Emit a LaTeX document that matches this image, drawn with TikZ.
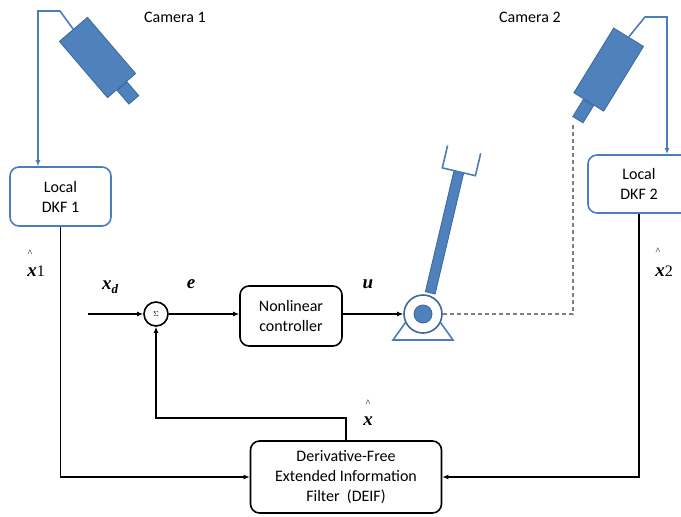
\documentclass[tikz,border=0pt]{standalone}
\usepackage{fontspec}
\setmainfont{Carlito}
\newfontfamily\lblfont{Liberation Serif}
\usepackage{xcolor}
\usepackage{tikz}
\usetikzlibrary{arrows.meta,positioning}
\definecolor{camblue}{HTML}{4F81BD}
\definecolor{camedge}{HTML}{3B679A}
\definecolor{wireblue}{HTML}{4A7EBB}
\definecolor{dashgray}{HTML}{7F7F7F}

\begin{document}
\begin{tikzpicture}[x=1pt,y=-1pt,>={Latex[length=6pt,width=5pt]},
  font=\fontsize{16}{20}\selectfont,
  blockbox/.style={draw=black,line width=1.6pt,rounded corners=9pt,align=center,inner sep=0pt},
  localbox/.style={blockbox,draw=wireblue},
  camera/.style={draw=camedge,fill=camblue,line width=0.8pt,inner sep=0pt},
  sig/.style={line width=1.6pt},
  wire/.style={draw=wireblue,line width=1.6pt},
  lbl/.style={font=\lblfont\fontsize{19}{19}\selectfont\bfseries\itshape},
  hatmark/.style={font=\lblfont\fontsize{10}{10}\selectfont}]
\useasboundingbox (0,0) rectangle (681,517);
\clip (0,0) rectangle (681,517);

% cameras
\node (cam1lbl) at (175,17) {Camera 1};
\node[camera,minimum width=74,minimum height=37,rotate=-49.4] (cam1) at (97.5,57.5) {};
\node[camera,minimum width=18,minimum height=13,rotate=-49.4,anchor=west] (lens1) at (cam1.east) {};
\node (cam2lbl) at (530,17) {Camera 2};
\node[camera,minimum width=76,minimum height=35,rotate=-121.6] (cam2) at (608.7,69.6) {};
\node[camera,minimum width=20,minimum height=12,rotate=-121.6,anchor=west] (lens2) at (cam2.east) {};

% local filters
\node[localbox,minimum width=101,minimum height=59] (dkf1) at (60.5,196.5) {Local\\DKF 1};
\node[localbox,minimum width=102,minimum height=58] (dkf2) at (639,184) {Local\\DKF 2};

\coordinate (w1a) at (60,11);
\coordinate (w1b) at (38,11);
\draw[wire,->] (cam1.west) -- (w1a) -- (w1b) -- (w1b |- dkf1.north);
\coordinate (w2a) at (645,17);
\coordinate (w2b) at (667,17);
\draw[wire,->] (cam2.west) -- (w2a) -- (w2b) -- (w2b |- dkf2.north);

% manipulator
\draw[wire] (423,298) -- (393,340) -- (453,340) -- cycle;
\node[camera,minimum width=124,minimum height=10,rotate=76.7] (arm) at (444.5,232.5) {};
\begin{scope}[shift={(arm.east)},rotate=76.7]
  \draw[wire] (23,17) -- (0,17) -- (0,-17) -- (23,-17);
\end{scope}
\node[circle,draw=camedge,fill=white,line width=1.6pt,minimum size=38,inner sep=0pt] (pivot) at (423,314) {};
\node[circle,camera,minimum size=18] (hub) at (pivot.center) {};

\coordinate (dashtop) at (573,125);
\draw[dashgray,line width=1.2pt,dash pattern=on 4pt off 3pt] (dashtop) |- (pivot.east);

% control loop
\node[circle,draw,line width=1.6pt,minimum size=24,inner sep=0pt,font=\fontsize{7}{7}\selectfont] (sum) at (156,314) {$\Sigma$};
\node[blockbox,minimum width=102,minimum height=60] (ctrl) at (291,316) {Nonlinear\\controller};
\node[blockbox,minimum width=191,minimum height=72] (deif) at (346,477) {Derivative-Free\\Extended Information\\Filter~~(DEIF)};

\coordinate (xdin) at (88,314);
\coordinate (fb) at (156,418);
\draw[sig,->] (xdin) -- (sum.west);
\draw[sig,->] (sum.east) -- (sum.east -| ctrl.west);
\draw[sig,->] (pivot.west -| ctrl.east) -- (pivot.west);
\draw[sig,->] (dkf1.south) |- (deif.west);
\draw[sig,->] (dkf2.south) |- (deif.east);
\draw[sig,->] (deif.north) |- (fb) -- (sum.south);

% signal labels
\node[lbl] (xdlbl) at (110,287) {x\raisebox{-0.4ex}{\fontsize{13}{13}\selectfont d}};
\node[lbl] (elbl) at (191,284) {e};
\node[lbl] (ulbl) at (368,284) {u};
\node[lbl] (x1lbl) at (36,271) {x\normalfont\lblfont\fontsize{16}{16}\selectfont 1};
\node[hatmark] (x1hat) at (30,253) {\textasciicircum};
\node[lbl] (x2lbl) at (664,271) {x\normalfont\lblfont\fontsize{16}{16}\selectfont 2};
\node[hatmark] (x2hat) at (658,251) {\textasciicircum};
\node[lbl] (xlbl) at (368,421) {x};
\node[hatmark] (xhat) at (368,403) {\textasciicircum};
\end{tikzpicture}
\end{document}
